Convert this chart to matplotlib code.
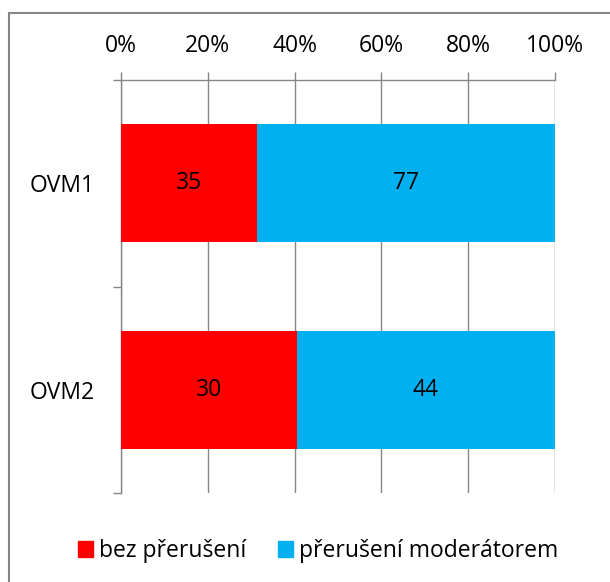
import matplotlib
matplotlib.use("Agg")
import numpy as np
import matplotlib.pyplot as plt
from matplotlib.patches import Rectangle

categories = ["OVM1", "OVM2"]
bez_preruseni = [35, 30]
preruseni_moderatorem = [77, 44]
series_labels = ["bez přerušení", "přerušení moderátorem"]
xtick_vals = [0, 20, 40, 60, 80, 100]
xtick_lbls = ["0%", "20%", "40%", "60%", "80%", "100%"]

RED = "#FF0000"
BLUE = "#00B0F0"
GRID = "#868686"

plt.rcParams["font.family"] = ["Open Sans", "DejaVu Sans"]
FS = 16.5

fig = plt.figure(figsize=(6.10, 5.82), dpi=100)
ax = fig.add_axes([121 / 610, 1 - 493 / 582, 434 / 610, 413 / 582])

a = np.array(bez_preruseni, dtype=float)
b = np.array(preruseni_moderatorem, dtype=float)
tot = a + b
pa = a / tot * 100
pb = b / tot * 100
y = np.arange(len(categories))

ax.barh(y, pa, height=0.57, color=RED, zorder=3)
ax.barh(y, pb, left=pa, height=0.57, color=BLUE, zorder=3)

for i in range(len(categories)):
    ax.text(pa[i] / 2, y[i], str(bez_preruseni[i]), ha="center", va="center",
            fontsize=FS, zorder=4)
    ax.text(pa[i] + pb[i] / 2, y[i], str(preruseni_moderatorem[i]), ha="center",
            va="center", fontsize=FS, zorder=4)

ax.set_xlim(0, 100)
ax.set_ylim(1.5, -0.5)
ax.xaxis.tick_top()
ax.set_xticks(xtick_vals)
ax.set_xticklabels(xtick_lbls, fontsize=FS)
ax.tick_params(axis="x", direction="out", length=6, width=1, color=GRID, pad=10)
ax.xaxis.grid(True, color=GRID, linewidth=1, zorder=0)

ax.set_yticks([-0.5, 0.5, 1.5])
ax.set_yticklabels([])
ax.tick_params(axis="y", which="major", direction="out", length=6, width=1, color=GRID)
ax.set_yticks(y, minor=True)
ax.set_yticklabels(categories, minor=True, fontsize=FS)
ax.tick_params(axis="y", which="minor", length=0, pad=19)

for s in ["right", "bottom"]:
    ax.spines[s].set_visible(False)
for s in ["top", "left"]:
    ax.spines[s].set_color(GRID)
    ax.spines[s].set_linewidth(1)

handles = [Rectangle((0, 0), 1, 1, color=RED), Rectangle((0, 0), 1, 1, color=BLUE)]
fig.legend(handles, series_labels, loc="center", bbox_to_anchor=(318 / 610, 1 - 551 / 582),
           ncol=2, frameon=False, fontsize=FS, handlelength=0.65, handleheight=0.65,
           handletextpad=0.25, columnspacing=1.4)

fig.patches.append(Rectangle((9 / 610, -0.1), 1.2, 1 - 13 / 582 + 0.1,
                             transform=fig.transFigure, fill=False,
                             edgecolor="#868686", linewidth=1.5))

fig.savefig("out.png", dpi=100)
